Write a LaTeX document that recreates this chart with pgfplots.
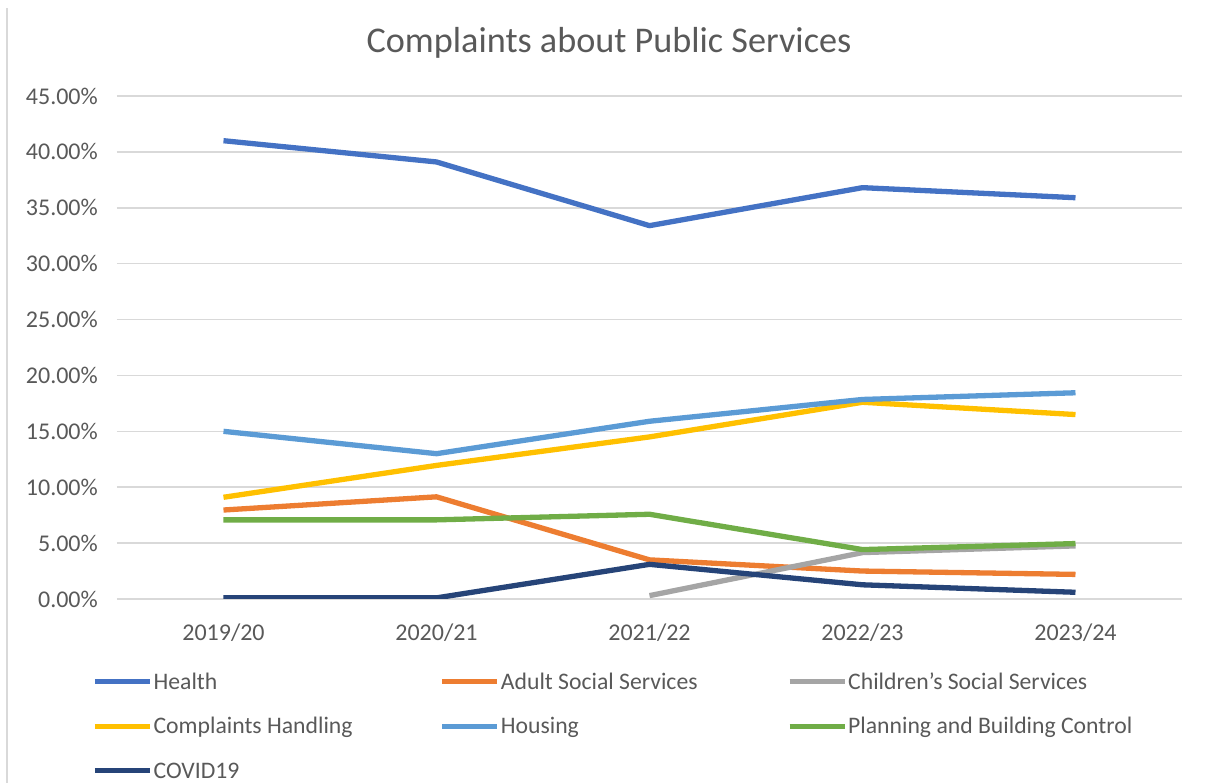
\documentclass[border=0pt]{standalone}
\usepackage{pgfplots}
\pgfplotsset{compat=1.18}
\usepackage{fontspec}
\setmainfont{Carlito}

\definecolor{txtgray}{HTML}{595959}
\definecolor{gridgray}{HTML}{D9D9D9}
\definecolor{cHealth}{HTML}{4472C4}
\definecolor{cAdult}{HTML}{ED7D31}
\definecolor{cChild}{HTML}{A5A5A5}
\definecolor{cCompl}{HTML}{FFC000}
\definecolor{cHousing}{HTML}{5B9BD5}
\definecolor{cPlan}{HTML}{70AD47}
\definecolor{cCovid}{HTML}{264478}

\begin{document}
\begin{tikzpicture}
  \useasboundingbox (-117pt,-184pt) rectangle (1088pt,599pt);
  % frame edge on the left
  \draw[gridgray, line width=2pt] (-110pt,-184pt) -- (-110pt,591pt);

  \begin{axis}[
    at={(0pt,0pt)}, anchor=south west,
    width=1065pt, height=503pt,
    scale only axis,
    xmin=-0.5, xmax=4.5,
    ymin=0, ymax=45,
    xtick={0,1,2,3,4},
    xticklabels={2019/20,2020/21,2021/22,2022/23,2023/24},
    ytick={0,5,...,45},
    yticklabel={\pgfmathprintnumber[fixed,fixed zerofill,precision=2]{\tick}\%},
    /pgf/number format/assume math mode=true,
    axis line style={draw=none},
    tick style={draw=none},
    ymajorgrids,
    grid style={gridgray, line width=1.6pt},
    tick label style={font=\fontsize{24}{28}\selectfont, text=txtgray},
    yticklabel style={anchor=east, inner sep=0pt, xshift=-19pt},
    xticklabel style={anchor=base, inner sep=0pt, yshift=-42pt},
    every axis plot/.append style={line width=5.3pt, line join=round},
    legend image code/.code={\draw[#1, line width=5.3pt] (0pt,0pt) -- (55pt,0pt);},
    legend columns=3,
    legend style={
      draw=none, fill=none, inner sep=0pt, outer sep=0pt,
      at={(axis description cs:-0.0232,-0.149)}, anchor=north west,
      font=\fontsize{23.7}{28}\selectfont, text=txtgray,
      row sep=29pt, column sep=0pt,
      nodes={inner sep=0pt, text height=15.5pt, text depth=0pt},
    },
    legend cell align=left,
  ]
    \addplot[cHealth] coordinates {(0,41.0) (1,39.1) (2,33.4) (3,36.8) (4,35.9)};
    \addlegendentry{\makebox[287pt][l]{\hspace{1pt}Health}}
    \addplot[cAdult] coordinates {(0,7.96) (1,9.14) (2,3.5) (3,2.5) (4,2.2)};
    \addlegendentry{\makebox[287pt][l]{\hspace{1pt}Adult Social Services}}
    \addplot[cChild] coordinates {(2,0.3) (3,4.15) (4,4.75)};
    \addlegendentry{\makebox[287pt][l]{\hspace{1pt}Children's Social Services}}
    \addplot[cCompl] coordinates {(0,9.1) (1,11.95) (2,14.5) (3,17.6) (4,16.5)};
    \addlegendentry{\makebox[287pt][l]{\hspace{1pt}Complaints Handling}}
    \addplot[cHousing] coordinates {(0,15.0) (1,13.0) (2,15.9) (3,17.85) (4,18.45)};
    \addlegendentry{\makebox[287pt][l]{\hspace{1pt}Housing}}
    \addplot[cPlan] coordinates {(0,7.08) (1,7.08) (2,7.58) (3,4.42) (4,4.96)};
    \addlegendentry{\makebox[287pt][l]{\hspace{1pt}Planning and Building Control}}
    \addplot[cCovid] coordinates {(0,0.1) (1,0.1) (2,3.1) (3,1.27) (4,0.6)};
    \addlegendentry{\makebox[287pt][l]{\hspace{1pt}COVID19}}
  \end{axis}

  \node[text=txtgray, font=\fontsize{36.2}{42}\selectfont, anchor=center] at (492pt,556pt) {Complaints about Public Services};
\end{tikzpicture}
\end{document}
